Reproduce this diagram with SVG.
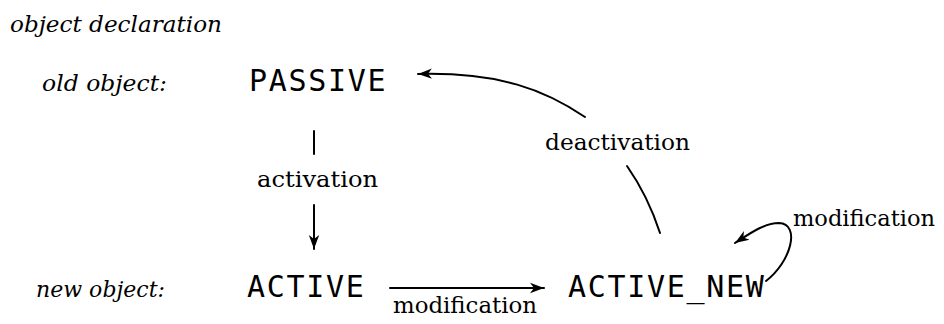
<svg xmlns="http://www.w3.org/2000/svg" width="944" height="324" viewBox="0 0 944 324">
  <style>
    .state { font-family: "DejaVu Sans Mono", "Liberation Mono", monospace; font-size: 30px; letter-spacing: 1.7px; fill: #000; }
    .lbl { font-family: "DejaVu Serif", "Liberation Serif", serif; font-size: 22px; fill: #000; }
    .it { font-family: "DejaVu Serif", "Liberation Serif", serif; font-size: 23px; font-style: italic; fill: #000; }
    .edge { fill: none; stroke: #000; stroke-width: 2; stroke-linecap: round; }
  </style>
  <defs>
    <marker id="arrow" markerUnits="userSpaceOnUse" markerWidth="18" markerHeight="12" refX="14" refY="6" orient="auto">
      <path d="M0,0.8 L14,6 L0,11.2 L4,6 z" fill="#000"/>
    </marker>
  </defs>

  <rect width="944" height="324" fill="#fff"/>

  <!-- headings -->
  <text class="it" x="10" y="32" textLength="212" lengthAdjust="spacingAndGlyphs">object declaration</text>
  <text class="it" x="42" y="91" textLength="125" lengthAdjust="spacingAndGlyphs">old object:</text>
  <text class="it" x="36" y="297" textLength="129" lengthAdjust="spacingAndGlyphs">new object:</text>

  <!-- states -->
  <g id="passive">
    <text class="state" x="249" y="91">PASSIVE</text>
  </g>
  <g id="active">
    <text class="state" x="247" y="297">ACTIVE</text>
  </g>
  <g id="active_new">
    <text class="state" x="568" y="297">ACTIVE_NEW</text>
  </g>

  <!-- transitions -->
  <g id="connectors">
    <!-- activation: PASSIVE -> ACTIVE -->
    <line class="edge" x1="314" y1="131" x2="314" y2="154"/>
    <line class="edge" x1="314" y1="205" x2="314" y2="249" marker-end="url(#arrow)"/>
    <text class="lbl" x="257" y="187" textLength="121" lengthAdjust="spacingAndGlyphs">activation</text>

    <!-- modification: ACTIVE -> ACTIVE_NEW -->
    <line class="edge" x1="390" y1="288" x2="544" y2="288" marker-end="url(#arrow)"/>
    <text class="lbl" x="393" y="313" textLength="144" lengthAdjust="spacingAndGlyphs">modification</text>

    <!-- deactivation: ACTIVE_NEW -> PASSIVE -->
    <path class="edge" d="M660,233 Q648,196 627,166"/>
    <path class="edge" d="M585,117 C545,90 500,72 418,74" marker-end="url(#arrow)"/>
    <text class="lbl" x="545" y="150" textLength="145" lengthAdjust="spacingAndGlyphs">deactivation</text>

    <!-- modification: ACTIVE_NEW -> ACTIVE_NEW -->
    <path class="edge" d="M766,281 C791,262 801,224 779,223 C765,223 752,232 735,243" marker-end="url(#arrow)"/>
    <text class="lbl" x="793" y="226" textLength="142" lengthAdjust="spacingAndGlyphs">modification</text>
  </g>
</svg>
